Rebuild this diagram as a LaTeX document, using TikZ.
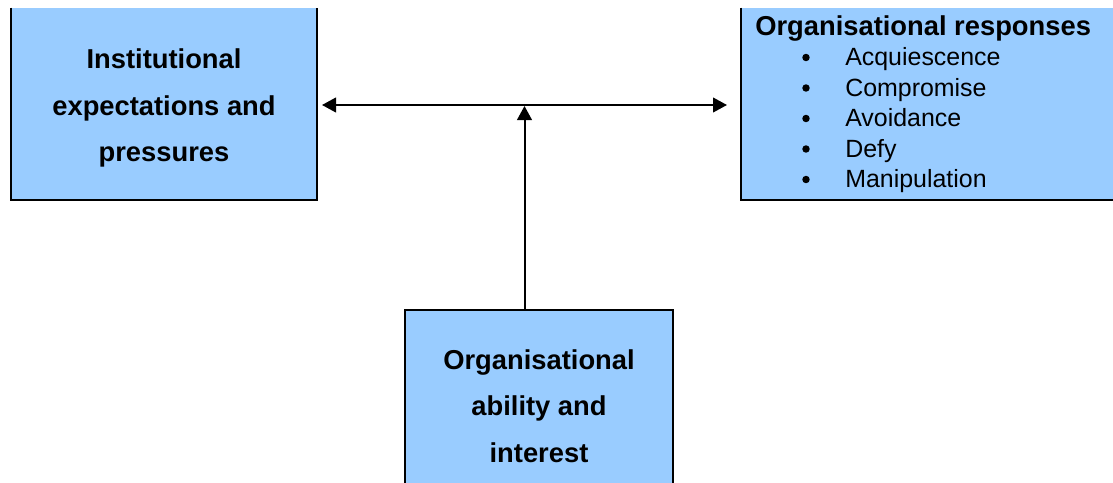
\documentclass[tikz,border=0pt]{standalone}
\usepackage{fontspec}
\setmainfont{Liberation Sans}
\usetikzlibrary{arrows.meta}

\definecolor{boxblue}{RGB}{153,204,255}

\tikzset{
	box/.style={fill=boxblue, minimum width=#1, minimum height=144pt, inner sep=0pt, align=center, font=\fontsize{20.5}{35}\selectfont\bfseries},
	edge/.style={line width=1.6pt},
	tip/.style={line width=1.5pt, -{Triangle[length=10.5pt,width=11pt]}},
	twotips/.style={line width=1.5pt, {Triangle[length=10.5pt,width=11pt]}-{Triangle[length=10.5pt,width=11pt]}},
	item/.style={anchor=base west, inner sep=0pt, font=\fontsize{18.7}{22}\selectfont},
	dot/.style={circle, fill, inner sep=0pt, minimum size=5.6pt},
}

\begin{document}
\begin{tikzpicture}[x=0.75pt,y=0.75pt,yscale=-1,xscale=1]
	\useasboundingbox (0,0) rectangle (1113,482);
	\clip (0,0) rectangle (1113,482);
	% boxes
	\node [box=229.5pt] (inst) at (164,104) {\rule{0pt}{21pt}Institutional\\expectations and\\pressures};
	\draw [edge] (inst.north west) -- (inst.south west) -- (inst.south east) -- (inst.north east) ;
	\node [box=291.75pt] (resp) at (935.5,104) {};
	\draw [edge] (resp.north west) -- (resp.south west) -- (resp.south east) ;
	\node [box=201pt, draw, edge] (abil) at (539,406) {Organisational\\ability and\\interest};
	% list of responses
	\node [item, font=\fontsize{20.5}{24}\selectfont\bfseries] (resptitle) at (755,35) {Organisational responses};
	\node [dot] (b1) at (806,57.5) {};
	\node [item] (r1) at (845,65.5) {Acquiescence};
	\node [dot] (b2) at (806,88) {};
	\node [item] (r2) at (845,96) {Compromise};
	\node [dot] (b3) at (806,118.5) {};
	\node [item] (r3) at (845,126.5) {Avoidance};
	\node [dot] (b4) at (806,149) {};
	\node [item] (r4) at (845,157) {Defy};
	\node [dot] (b5) at (806,179.5) {};
	\node [item] (r5) at (845,187.5) {Manipulation};
	% arrows
	\coordinate (lt) at (322,105);
	\coordinate (rt) at (727,105);
	\coordinate (mid) at (524.5,106);
	\draw [twotips] (lt) -- (rt) ;
	\draw [tip] (abil.north -| mid) -- (mid) ;
\end{tikzpicture}
\end{document}
